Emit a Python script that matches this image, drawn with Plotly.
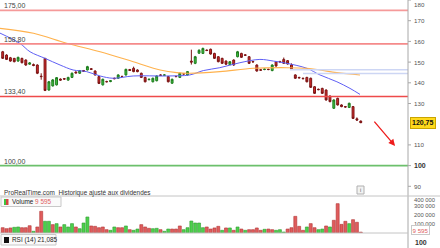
import plotly.graph_objects as go

# ---------------- data ----------------
opens = [155.0,153.4,152.1,151.8,150.5,151.8,151.0,149.0,148.8,148.6,
         143.2,151.8,136.5,138.5,139.0,141.8,142.0,141.3,142.6,145.2,
         144.6,145.9,146.2,146.8,145.7,143.0,139.0,140.6,140.6,142.2,
         142.2,143.1,143.8,146.4,147.0,146.2,144.6,142.6,141.5,140.5,
         141.0,143.8,143.6,143.0,139.8,143.1,142.6,144.3,143.8,150.5,
         149.4,154.3,154.2,155.8,156.2,154.2,152.6,151.8,150.5,148.8,
         151.0,152.6,154.2,153.5,152.6,150.3,148.6,146.3,146.4,146.5,
         145.9,150.2,150.3,151.3,150.7,148.6,143.8,142.6,142.2,142.6,
         142.2,138.1,136.9,137.3,136.5,133.6,127.7,132.5,129.3,128.5,
         128.1,128.5,122.6,121.5]
closes = [151.8,151.3,150.5,150.2,152.3,149.7,148.6,149.6,148.4,144.6,
          143.0,136.3,140.5,141.4,142.5,141.3,141.8,142.6,144.6,144.8,
          145.9,145.6,147.8,146.5,143.8,139.7,141.7,140.5,141.0,142.0,
          143.8,143.0,146.5,146.0,145.4,145.4,142.6,140.5,141.7,142.2,
          143.3,143.6,143.8,140.5,141.7,143.0,144.6,144.3,145.4,150.0,
          152.6,155.7,156.6,155.6,153.9,151.8,150.2,149.4,149.0,150.2,
          148.6,155.0,152.3,153.3,149.4,150.1,145.7,146.1,146.6,146.4,
          148.6,148.1,150.1,149.4,149.1,146.7,142.2,142.4,142.0,140.5,
          137.8,134.9,136.7,134.9,131.7,130.9,131.7,129.3,128.5,128.3,
          130.1,122.8,122.0,120.75]
highs = [155.4,153.8,152.5,152.0,152.6,152.1,151.3,150.0,149.3,148.9,
         144.6,152.0,140.9,141.8,142.8,142.1,142.3,142.9,145.0,145.5,
         146.2,146.2,148.2,147.1,146.0,143.3,142.0,141.0,141.3,142.5,
         144.1,143.4,146.8,146.7,147.8,146.5,144.9,142.9,142.0,142.5,
         143.6,144.1,144.1,143.3,142.0,143.4,144.9,144.6,145.7,156.0,
         153.0,156.2,157.0,156.1,156.5,154.5,152.9,152.1,150.8,150.5,
         151.3,155.4,154.5,153.8,152.9,150.6,148.9,146.6,146.9,146.8,
         148.9,150.5,150.6,152.2,151.0,149.4,144.1,142.9,142.5,142.9,
         142.5,138.4,137.2,137.6,136.8,133.9,132.0,132.8,129.6,128.8,
         130.4,128.8,123.3,121.8]
lows = [151.5,151.0,150.2,149.9,150.2,149.4,148.2,148.7,148.0,144.2,
        141.5,136.0,136.2,138.2,138.7,141.0,141.5,141.0,142.3,144.5,
        144.3,145.3,146.0,146.2,143.5,139.4,138.7,140.2,140.3,141.7,
        141.9,142.7,143.5,145.7,145.1,145.1,142.3,140.2,141.2,140.2,
        140.7,143.3,143.3,140.2,139.5,142.7,142.3,144.0,143.5,148.8,
        149.0,154.0,154.0,155.3,153.6,151.5,149.9,149.1,148.6,148.5,
        148.2,152.3,152.0,153.0,149.1,149.8,145.4,145.8,146.1,146.1,
        145.6,147.8,149.8,149.1,148.8,146.4,141.9,142.1,141.7,140.2,
        137.5,134.6,136.4,134.6,131.4,130.6,127.4,129.0,128.2,128.0,
        127.8,122.5,121.6,120.5]

volumes = [59,48,56,63,67,59,59,81,19,67,241,130,130,93,104,67,93,67,104,67,
           48,111,178,78,74,59,67,37,30,67,59,59,78,37,30,44,93,67,52,48,
           52,37,19,44,44,44,78,37,59,133,111,111,59,67,44,56,74,
           30,56,56,30,67,44,30,37,37,56,30,41,44,37,30,37,11,44,59,185,
           74,30,67,104,59,37,44,78,67,141,326,96,130,104,148,119,9.6]
volumes = [v * 1000 for v in volumes]
vol_up = [0,0,0,1,1,0,0,0,1,0,0,1,1,0,1,0,1,1,1,0,1,1,1,0,0,0,0,0,1,1,
          0,0,1,0,1,1,0,0,0,1,1,0,1,1,0,0,0,1,1,1,1,1,1,0,0,0,0,
          1,0,1,0,1,0,1,0,0,0,0,1,0,0,1,1,1,0,0,0,0,0,1,0,0,1,1,0,1,0,
          0,0,0,1,0,0,0]

ma20_x = [-0.7,4.5,7.1,11,14.9,18.3,21.8,25.3,28.7,33.9,42.6,48.6,52.1,56.4,
          61.6,66.8,70.3,73.8,79,82.4,86.8,90.2,92.8]
ma20_y = [164,159,155,151.8,148.6,146.2,145.4,143.3,142.2,143.3,143.3,143.8,145.9,147.3,
          149.7,151.3,150.5,149.4,147,143.8,140.5,137.3,134.4]
ma50_x = [-0.7,8,16.6,25.3,33.9,40.9,45.2,48.6,56.4,65.1,73.8,79,82.4,86.8,92.8]
ma50_y = [166.3,163.9,159.1,155,150.2,146.2,144.9,144.6,145.4,147,147.3,147,146.2,144.9,143.8]

levels = [175.0, 158.8, 133.4]
level_labels = ["175,00", "158,80", "133,40"]
support = 100.0
support_label = "100,00"
last_price_label = "120,75"
price_ticks = [90, 100, 110, 130, 140, 150, 160, 170, 180]
vol_tick_labels = ["400 000", "300 000", "200 000", "100 000"]
last_volume_label = "9 595"
rsi_label = "RSI (14) 21,085"

# ---------------- layout geometry ----------------
W, H = 440, 248
AX = 408            # x pixel of the right axis
X0, X1 = -0.70, 105.27
PY0 = 52 / H        # price panel bottom
VY0 = 15 / H        # volume panel bottom
def py(p):  # pixel y -> paper
    return 1 - p / H

idx = list(range(len(opens)))
fig = go.Figure()

fig.add_trace(go.Candlestick(
    x=idx, open=opens, high=highs, low=lows, close=closes,
    increasing=dict(line=dict(color="#1d7a1d", width=1), fillcolor="#3fc43f"),
    decreasing=dict(line=dict(color="#7a1414", width=1), fillcolor="#d42a2a"),
    whiskerwidth=0, xaxis="x", yaxis="y", hoverinfo="skip"))

fig.add_trace(go.Scatter(x=ma20_x, y=ma20_y, mode="lines",
    line=dict(color="#5f5ff5", width=1, shape="spline"), xaxis="x", yaxis="y"))
fig.add_trace(go.Scatter(x=ma50_x, y=ma50_y, mode="lines",
    line=dict(color="#ffb24d", width=1.1, shape="spline"), xaxis="x", yaxis="y"))

fig.add_trace(go.Bar(
    x=idx, y=volumes,
    marker=dict(color=["#4cd04c" if u else "#e05c5c" for u in vol_up],
                line=dict(color=["#2f9a2f" if u else "#b03434" for u in vol_up], width=0.6)),
    width=0.78, xaxis="x2", yaxis="y2"))

shapes = []
# resistance lines
for lv, col in zip(levels, ["#f59a9a", "#f58a8a", "#ee4a4a"]):
    shapes.append(dict(type="line", xref="paper", yref="y", x0=0, x1=AX / W, y0=lv, y1=lv,
                       line=dict(color=col, width=1.6)))
shapes.append(dict(type="line", xref="paper", yref="y", x0=0, x1=AX / W, y0=support, y1=support,
                   line=dict(color="#6cc06c", width=1.6)))
# pale lines
shapes.append(dict(type="line", xref="x", yref="y", x0=74.6, x1=X1, y0=146.3, y1=146.3,
                   line=dict(color="#cdd6f4", width=1.5)))
shapes.append(dict(type="line", xref="x", yref="y", x0=78, x1=X1, y0=144.5, y1=144.5,
                   line=dict(color="#cdd6f4", width=1.5)))
# axis and separators
shapes.append(dict(type="line", xref="paper", yref="paper", x0=AX / W, x1=AX / W, y0=0, y1=1,
                   line=dict(color="#a8a8a8", width=1)))
shapes.append(dict(type="line", xref="paper", yref="paper", x0=0, x1=1, y0=py(196), y1=py(196),
                   line=dict(color="#c4c4c4", width=1)))
shapes.append(dict(type="line", xref="paper", yref="paper", x0=0, x1=AX / W, y0=py(233), y1=py(233),
                   line=dict(color="#c4c4c4", width=1)))
# legend boxes
shapes.append(dict(type="rect", xref="paper", yref="paper", x0=1 / W, x1=61 / W, y0=py(206.5), y1=py(197),
                   line=dict(color="#c8c8c8", width=1), fillcolor="#fafafa"))
shapes.append(dict(type="rect", xref="paper", yref="paper", x0=4 / W, x1=6 / W, y0=py(205), y1=py(199),
                   line=dict(width=0), fillcolor="#3fc43f"))
shapes.append(dict(type="rect", xref="paper", yref="paper", x0=6 / W, x1=8.5 / W, y0=py(205), y1=py(199),
                   line=dict(width=0), fillcolor="#d44444"))
shapes.append(dict(type="rect", xref="paper", yref="paper", x0=1 / W, x1=56 / W, y0=py(245), y1=py(234.5),
                   line=dict(color="#c8c8c8", width=1), fillcolor="#fafafa"))
shapes.append(dict(type="rect", xref="paper", yref="paper", x0=4 / W, x1=9 / W, y0=py(243), y1=py(237),
                   line=dict(width=0), fillcolor="#111111"))
# info box
shapes.append(dict(type="rect", xref="paper", yref="paper", x0=357 / W, x1=364 / W, y0=py(194), y1=py(186),
                   line=dict(color="#b0b0b0", width=1), fillcolor="#f2f2f2"))

ann = []
FONT = "Liberation Sans, Arial, sans-serif"
for lv, lab in zip(levels + [support], level_labels + [support_label]):
    ann.append(dict(xref="paper", yref="y", x=2 / W, y=lv, text=lab, showarrow=False,
                    xanchor="left", yanchor="bottom", yshift=-1,
                    font=dict(family=FONT, size=7, color="#444")))
ann.append(dict(xref="paper", yref="paper", x=2 / W, y=py(193), text="ProRealTime.com  Historique ajusté aux dividendes",
                showarrow=False, xanchor="left", yanchor="middle",
                font=dict(family=FONT, size=6.4, color="#333")))
ann.append(dict(xref="paper", yref="paper", x=10 / W, y=py(201.8),
                text="Volume <span style='color:#e06060'>" + last_volume_label + "</span>",
                showarrow=False, xanchor="left", yanchor="middle",
                font=dict(family=FONT, size=6.4, color="#222")))
ann.append(dict(xref="paper", yref="paper", x=10 / W, y=py(240), text=rsi_label,
                showarrow=False, xanchor="left", yanchor="middle",
                font=dict(family=FONT, size=6.4, color="#222")))
# price ticks
for t in price_ticks:
    top = t == price_ticks[-1]
    ann.append(dict(xref="paper", yref="y", x=412 / W, y=t,
                    text=("<b>%d</b>" % t) if t == 100 else str(t), showarrow=False,
                    xanchor="left", yanchor="top" if top else "middle", yshift=1 if top else 0,
                    font=dict(family=FONT, size=7 if t == 100 else 6.2, color="#333" if t == 100 else "#555")))
    shapes.append(dict(type="line", xref="paper", yref="y", x0=AX / W, x1=(AX + 3) / W, y0=t, y1=t,
                       line=dict(color="#a8a8a8", width=1)))
# last price box
ann.append(dict(xref="paper", yref="y", x=410 / W, y=closes[-1], text="<b>" + last_price_label + "</b>",
                showarrow=False, xanchor="left", yanchor="middle", bgcolor="#ffd91c",
                bordercolor="#c9a400", borderwidth=1, borderpad=1,
                font=dict(family=FONT, size=7, color="#111")))
# volume ticks
for lab, yy in zip(vol_tick_labels, [200, 205.5, 214.5, 223.5]):
    ann.append(dict(xref="paper", yref="paper", x=412 / W, y=py(yy), text=lab, showarrow=False,
                    xanchor="left", yanchor="middle", font=dict(family=FONT, size=5.8, color="#555")))
ann.append(dict(xref="paper", yref="paper", x=411 / W, y=py(229.5), text=last_volume_label, showarrow=False,
                xanchor="left", yanchor="middle", bgcolor="#ffffff", bordercolor="#c8c8c8",
                borderwidth=1, borderpad=0.5, font=dict(family=FONT, size=6.2, color="#e06060")))
ann.append(dict(xref="paper", yref="paper", x=413 / W, y=py(242.5), text="<b>100</b>", showarrow=False,
                xanchor="left", yanchor="middle", font=dict(family=FONT, size=7, color="#333")))
ann.append(dict(xref="paper", yref="paper", x=360.5 / W, y=py(190), text="i", showarrow=False,
                xanchor="center", yanchor="middle", borderpad=0,
                font=dict(family=FONT, size=5.5, color="#555")))
# arrow
ann.append(dict(xref="x", yref="y", x=101.9, y=109.5, axref="x", ayref="y", ax=96.2, ay=122.0,
                text="", showarrow=True, arrowhead=2, arrowsize=1, arrowwidth=1.3, arrowcolor="#ee1c1c"))

fig.update_layout(
    width=W, height=H, margin=dict(l=0, r=0, t=0, b=0),
    paper_bgcolor="white", plot_bgcolor="white", showlegend=False,
    shapes=shapes, annotations=ann,
    xaxis=dict(domain=[0, AX / W], range=[X0, X1], visible=False, rangeslider=dict(visible=False),
               anchor="y"),
    xaxis2=dict(domain=[0, AX / W], range=[X0, X1], visible=False, anchor="y2", matches="x"),
    yaxis=dict(domain=[PY0, 1], range=[180 - 196 / 2.07, 180], visible=False, anchor="x"),
    yaxis2=dict(domain=[VY0, PY0], range=[0, 37 / 9 * 100000], visible=False, anchor="x2"),
)

fig.write_html("out.html")
